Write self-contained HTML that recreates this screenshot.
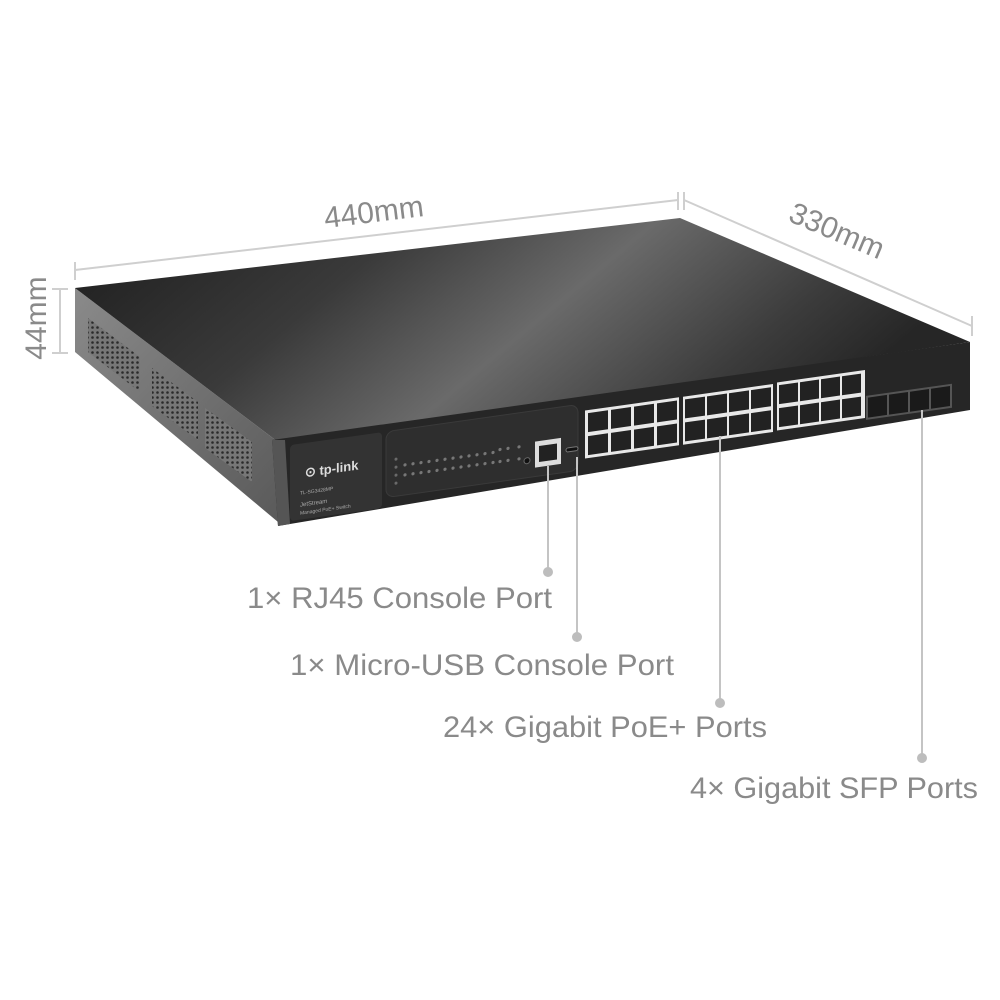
<!DOCTYPE html>
<html><head><meta charset="utf-8"><style>
html,body{margin:0;padding:0;background:#fff;}
svg{display:block;}
.lbl{font-family:"Liberation Sans Narrow","Liberation Sans",sans-serif;fill:#8a8a8a;font-size:30px;}
</style></head><body>
<svg width="1000" height="1000" viewBox="0 0 1000 1000" xmlns="http://www.w3.org/2000/svg">
<defs>
<linearGradient id="top" x1="0" y1="0" x2="1" y2="0.3">
<stop offset="0" stop-color="#1c1c1c"/>
<stop offset="0.35" stop-color="#3a3a3a"/>
<stop offset="0.6" stop-color="#6a6a6a"/>
<stop offset="0.85" stop-color="#3c3c3c"/>
<stop offset="1" stop-color="#262626"/>
</linearGradient>
<linearGradient id="side" x1="0" y1="0" x2="1" y2="1">
<stop offset="0" stop-color="#8a8a8a"/>
<stop offset="1" stop-color="#5a5a5a"/>
</linearGradient>
<pattern id="holes" width="5" height="5" patternUnits="userSpaceOnUse">
<rect width="5" height="5" fill="#777"/><circle cx="2.5" cy="2.5" r="1.3" fill="#2a2a2a"/>
</pattern>
</defs>

<g stroke="#cfcfcf" stroke-width="2" fill="none">
<line x1="75" y1="270" x2="678" y2="200"/>
<line x1="75" y1="262" x2="75" y2="280"/>
<line x1="678" y1="192" x2="678" y2="210"/>
<line x1="684" y1="200" x2="972" y2="326"/>
<line x1="684" y1="192" x2="684" y2="210"/>
<line x1="972" y1="316" x2="972" y2="336"/>
<line x1="60" y1="289" x2="60" y2="353"/>
<line x1="52" y1="289" x2="68" y2="289"/>
<line x1="52" y1="353" x2="68" y2="353"/>
</g>
<text class="lbl" x="375" y="222" text-anchor="middle" transform="rotate(-7 375 222)">440mm</text>
<text class="lbl" x="833" y="240" text-anchor="middle" transform="rotate(23 833 240)">330mm</text>
<text class="lbl" x="46" y="318" text-anchor="middle" transform="rotate(-90 46 318)">44mm</text>

<polygon points="75,288 278,442 278,522 75,352" fill="url(#side)"/>
<polygon points="88,318 140,357 140,392 88,352" fill="url(#holes)"/>
<polygon points="152,368 198,402 198,440 152,406" fill="url(#holes)"/>
<polygon points="205,408 252,442 252,482 205,448" fill="url(#holes)"/>
<polygon points="75,288 680,218 970,342 278,442" fill="url(#top)"/>
<polygon points="272,440 970,342 970,410 278,526" fill="#262626"/>
<polygon points="272,440 285,440 290,524 278,526" fill="#555"/>

<g transform="matrix(1,-0.141,0,1,0,0)">
<rect x="290" y="486" width="92" height="76" rx="4" fill="#333"/>
<text x="305" y="520" font-family="Liberation Sans,sans-serif" font-size="13" fill="#ddd" font-weight="bold">⊙ tp-link</text>
<text x="300" y="537" font-family="Liberation Sans,sans-serif" font-size="5" fill="#aaa">TL-SG3428MP</text>
<text x="300" y="549" font-family="Liberation Sans,sans-serif" font-size="6" fill="#aaa">JetStream</text>
<text x="300" y="557" font-family="Liberation Sans,sans-serif" font-size="5" fill="#aaa">Managed PoE+ Switch</text>
<rect x="386" y="486" width="192" height="66" rx="8" fill="#2e2e2e" stroke="#3a3a3a"/>
<g fill="#6a6a6a">
<circle cx="396" cy="515" r="1.5"/><circle cx="396" cy="523" r="1.5"/><circle cx="396" cy="531" r="1.5"/><circle cx="396" cy="539" r="1.5"/>
</g>
<g fill="#777">
<circle cx="405" cy="522" r="1.6"/><circle cx="413" cy="522" r="1.6"/><circle cx="421" cy="522" r="1.6"/><circle cx="429" cy="522" r="1.6"/><circle cx="437" cy="522" r="1.6"/><circle cx="445" cy="522" r="1.6"/><circle cx="453" cy="522" r="1.6"/><circle cx="461" cy="522" r="1.6"/><circle cx="469" cy="522" r="1.6"/><circle cx="477" cy="522" r="1.6"/><circle cx="485" cy="522" r="1.6"/><circle cx="493" cy="522" r="1.6"/>
<circle cx="405" cy="532" r="1.6"/><circle cx="413" cy="532" r="1.6"/><circle cx="421" cy="532" r="1.6"/><circle cx="429" cy="532" r="1.6"/><circle cx="437" cy="532" r="1.6"/><circle cx="445" cy="532" r="1.6"/><circle cx="453" cy="532" r="1.6"/><circle cx="461" cy="532" r="1.6"/><circle cx="469" cy="532" r="1.6"/><circle cx="477" cy="532" r="1.6"/><circle cx="485" cy="532" r="1.6"/><circle cx="493" cy="532" r="1.6"/>
<circle cx="500" cy="520" r="1.6"/><circle cx="508" cy="520" r="1.6"/><circle cx="500" cy="532" r="1.6"/><circle cx="508" cy="532" r="1.6"/>
<circle cx="519" cy="520" r="1.6"/><circle cx="519" cy="532" r="1.6"/>
</g>
<circle cx="527" cy="535" r="3" fill="#111" stroke="#666"/>
<rect x="535" y="517" width="26" height="26" fill="#ddd"/>
<rect x="539" y="522" width="18" height="16" fill="#222"/>
<rect x="566" y="528" width="12" height="4" rx="2" fill="#111" stroke="#777"/>
<g>
<rect x="585" y="493" width="94" height="48" fill="#e8e8e8"/>
<rect x="588" y="496" width="20" height="19" fill="#222"/><rect x="611" y="496" width="20" height="19" fill="#222"/><rect x="634" y="496" width="20" height="19" fill="#222"/><rect x="657" y="496" width="20" height="19" fill="#222"/>
<rect x="588" y="519" width="20" height="19" fill="#222"/><rect x="611" y="519" width="20" height="19" fill="#222"/><rect x="634" y="519" width="20" height="19" fill="#222"/><rect x="657" y="519" width="20" height="19" fill="#222"/>
</g>
<g transform="translate(98,0)">
<rect x="585" y="493" width="90" height="48" fill="#e8e8e8"/>
<rect x="587" y="496" width="20" height="19" fill="#222"/><rect x="609" y="496" width="20" height="19" fill="#222"/><rect x="631" y="496" width="20" height="19" fill="#222"/><rect x="653" y="496" width="20" height="19" fill="#222"/>
<rect x="587" y="519" width="20" height="19" fill="#222"/><rect x="609" y="519" width="20" height="19" fill="#222"/><rect x="631" y="519" width="20" height="19" fill="#222"/><rect x="653" y="519" width="20" height="19" fill="#222"/>
</g>
<g transform="translate(192,-1)">
<rect x="585" y="493" width="88" height="48" fill="#e8e8e8"/>
<rect x="587" y="496" width="19" height="19" fill="#222"/><rect x="608" y="496" width="19" height="19" fill="#222"/><rect x="629" y="496" width="19" height="19" fill="#222"/><rect x="650" y="496" width="19" height="19" fill="#222"/>
<rect x="587" y="519" width="19" height="19" fill="#222"/><rect x="608" y="519" width="19" height="19" fill="#222"/><rect x="629" y="519" width="19" height="19" fill="#222"/><rect x="650" y="519" width="19" height="19" fill="#222"/>
</g>
<rect x="866" y="518" width="86" height="24" fill="#555"/>
<rect x="868" y="520" width="19" height="20" fill="#1a1a1a"/><rect x="889" y="520" width="19" height="20" fill="#1a1a1a"/><rect x="910" y="520" width="19" height="20" fill="#1a1a1a"/><rect x="931" y="520" width="19" height="20" fill="#1a1a1a"/>
</g>

<g stroke="#c4c4c4" stroke-width="2">
<line x1="548" y1="466" x2="548" y2="572"/>
<line x1="577" y1="457" x2="577" y2="637"/>
<line x1="720" y1="436" x2="720" y2="703"/>
<line x1="922" y1="410" x2="922" y2="758"/>
</g>
<g fill="#bdbdbd">
<circle cx="548" cy="572" r="5"/><circle cx="577" cy="637" r="5"/><circle cx="720" cy="703" r="5"/><circle cx="922" cy="758" r="5"/>
</g>
<text class="lbl" x="247" y="608" textLength="305" lengthAdjust="spacingAndGlyphs">1× RJ45 Console Port</text>
<text class="lbl" x="290" y="675" textLength="384" lengthAdjust="spacingAndGlyphs">1× Micro-USB Console Port</text>
<text class="lbl" x="443" y="737" textLength="324" lengthAdjust="spacingAndGlyphs">24× Gigabit PoE+ Ports</text>
<text class="lbl" x="690" y="798" textLength="288" lengthAdjust="spacingAndGlyphs">4× Gigabit SFP Ports</text>
</svg>
</body></html>
